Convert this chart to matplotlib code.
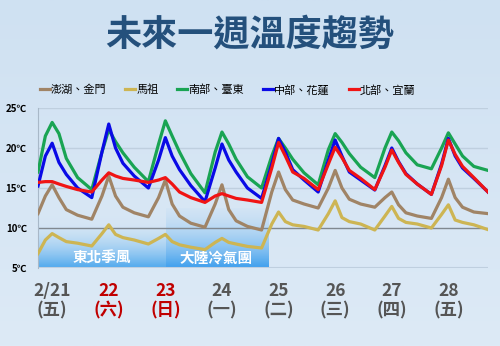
import numpy as np
import matplotlib.pyplot as plt
import matplotlib.colors as mcolors

plt.rcParams['font.family'] = ['Noto Sans CJK TC', 'DejaVu Sans']

# time in days, 0 = 2/21 label (about midday)
t = [-0.25, -0.12, 0, 0.12, 0.25, 0.45,
     0.7, 0.88, 1, 1.12, 1.25, 1.45,
     1.7, 1.88, 2, 2.12, 2.25, 2.45,
     2.7, 2.88, 3, 3.12, 3.25, 3.45,
     3.7, 3.88, 4, 4.12, 4.25, 4.45,
     4.7, 4.88, 5, 5.12, 5.25, 5.45,
     5.7, 5.88, 6, 6.12, 6.25, 6.45,
     6.7, 6.88, 7, 7.12, 7.25, 7.45, 7.7]

penghu = [11.8, 14.0, 15.4, 13.8, 12.3, 11.6,
          11.1, 14.0, 16.5, 14.0, 12.6, 11.9,
          11.4, 13.8, 16.0, 13.0, 11.5, 10.6,
          10.1, 13.0, 15.4, 12.3, 10.9, 10.2,
          9.75, 14.5, 17.0, 14.8, 13.5, 13.0,
          12.5, 15.0, 17.2, 15.0, 13.6, 13.0,
          12.6, 13.8, 14.5, 12.9, 11.9, 11.5,
          11.2, 13.8, 16.1, 13.8, 12.6, 12.0, 11.8]

matsu = [6.8, 8.5, 9.3, 8.8, 8.3, 8.1,
         7.75, 9.3, 10.4, 9.2, 8.8, 8.5,
         8.0, 8.7, 9.2, 8.3, 7.9, 7.6,
         7.3, 8.2, 8.7, 8.2, 8.0, 7.7,
         7.5, 10.5, 12.0, 10.8, 10.4, 10.2,
         9.75, 11.8, 13.4, 11.3, 10.8, 10.5,
         9.75, 11.5, 12.7, 11.2, 10.7, 10.5,
         10.0, 11.7, 12.9, 11.0, 10.7, 10.4, 9.8]

south = [17.0, 21.5, 23.2, 21.8, 18.7, 16.3,
         14.8, 19.5, 22.3, 20.8, 19.4, 17.6,
         15.8, 20.5, 23.4, 21.5, 19.5, 16.8,
         14.4, 19.5, 22.0, 20.5, 18.6, 16.4,
         15.0, 19.0, 21.2, 20.0, 18.6, 16.9,
         15.4, 19.8, 21.8, 20.7, 19.3, 17.6,
         16.3, 20.0, 22.0, 20.9, 19.4, 17.9,
         17.4, 20.0, 21.9, 20.5, 19.0, 17.7, 17.2]

central = [15.25, 19.0, 20.6, 18.2, 16.7, 15.0,
           13.8, 19.5, 23.0, 20.0, 18.1, 16.5,
           15.0, 18.5, 21.3, 19.0, 17.3, 15.3,
           13.3, 17.5, 20.5, 18.5, 17.0, 15.0,
           13.7, 18.0, 21.2, 19.5, 17.3, 16.0,
           14.5, 18.5, 21.0, 19.0, 17.0, 16.0,
           14.75, 17.8, 20.0, 18.3, 16.8, 15.5,
           14.2, 18.0, 21.2, 19.0, 17.5, 16.2, 14.5]

north = [15.7, 15.8, 15.8, 15.5, 15.2, 14.8,
         14.5, 16.0, 16.9, 16.5, 16.2, 16.0,
         15.7, 16.0, 16.3, 15.5, 14.5, 13.8,
         13.2, 14.0, 14.3, 14.0, 13.7, 13.5,
         13.2, 17.5, 20.7, 19.0, 17.0, 16.2,
         14.8, 18.0, 20.1, 18.8, 17.2, 16.2,
         14.8, 17.6, 19.75, 18.2, 16.7, 15.5,
         14.2, 17.8, 21.0, 19.2, 17.7, 16.3, 14.5]

day_labels = ['2/21\n(五)', '22\n(六)', '23\n(日)', '24\n(一)',
              '25\n(二)', '26\n(三)', '27\n(四)', '28\n(五)']
day_colors = ['#555555', '#C00000', '#C00000', '#555555',
              '#555555', '#555555', '#555555', '#555555']
y_ticks = [5, 10, 15, 20, 25]

fig = plt.figure(figsize=(5.0, 3.46), dpi=100)

# background gradient
bg = fig.add_axes([0, 0, 1, 1])
grad = np.linspace(0, 1, 256).reshape(-1, 1)
cmap_bg = mcolors.LinearSegmentedColormap.from_list('bg', ['#CFE1F2', '#DDEAF6'])
bg.imshow(grad, aspect='auto', cmap=cmap_bg, extent=[0, 1, 0, 1])
bg.axis('off')

ax = fig.add_axes([0.076, 0.2254, 0.9, 0.4624])
ax.set_facecolor('none')
ax.set_xlim(-0.25, 7.7)
ax.set_ylim(5, 25)

# monsoon / cold air boxes
def fade_box(x0, x1, y0, y1, top, bottom, top_alpha):
    c_top = mcolors.to_rgb(top)
    c_bot = mcolors.to_rgb(bottom)
    n = 100
    img = np.zeros((n, 1, 4))
    for i in range(n):
        f = i / (n - 1)
        img[i, 0, :3] = [c_top[k] * (1 - f) + c_bot[k] * f for k in range(3)]
        img[i, 0, 3] = top_alpha + (1 - top_alpha) * f
    ax.imshow(img, aspect='auto', extent=[x0, x1, y0, y1], zorder=1)

fade_box(-0.25, 2.01, 5, 11.5, '#D6E8F7', '#4FA9EE', 0.0)
fade_box(2.01, 3.82, 5, 12.5, '#B8DAF5', '#3E9FEE', 0.15)
ax.text(0.88, 6.3, '東北季風', color='white', fontsize=10.5, fontweight='bold',
        ha='center', va='center', zorder=2)
ax.text(2.9, 6.3, '大陸冷氣團', color='white', fontsize=10.5, fontweight='bold',
        ha='center', va='center', zorder=2)

# grid
for y in [15, 20, 25]:
    ax.axhline(y, color='#BFCFDF', lw=1.0, zorder=1.5)
ax.axhline(10, color='#808890', lw=1.0, zorder=1.5)
ax.axhline(5, color='#BFCFDF', lw=1.5, zorder=1.5)

for s in ['top', 'right', 'bottom']:
    ax.spines[s].set_visible(False)
ax.spines['left'].set_color('#A8B8C8')

lw = 2.3
ax.plot(t, penghu, color='#A08466', lw=lw, label='澎湖、金門', zorder=3, solid_joinstyle='round')
ax.plot(t, matsu, color='#CDB553', lw=lw, label='馬祖', zorder=3, solid_joinstyle='round')
ax.plot(t, south, color='#19A453', lw=lw, label='南部、臺東', zorder=3, solid_joinstyle='round')
ax.plot(t, central, color='#0A0AE6', lw=lw, label='中部、花蓮', zorder=3, solid_joinstyle='round')
ax.plot(t, north, color='#F01414', lw=lw, label='北部、宜蘭', zorder=3, solid_joinstyle='round')

ax.set_yticks(y_ticks)
ax.set_yticklabels([f'{v}℃' for v in y_ticks], fontsize=7, fontweight='bold')
ax.tick_params(axis='y', length=0, pad=8)

ax.set_xticks(range(len(day_labels)))
ax.set_xticklabels(day_labels, fontsize=12.5, fontweight='bold', linespacing=1.1)
for lab, c in zip(ax.get_xticklabels(), day_colors):
    lab.set_color(c)
ax.tick_params(axis='x', length=0, pad=10)

fig.legend(loc='center', bbox_to_anchor=(0.455, 0.74), ncol=5, frameon=False,
           fontsize=8, handlelength=0.9, handletextpad=0.1, columnspacing=1.7,
           borderaxespad=0)

fig.text(0.5, 0.9, '未來一週溫度趨勢', ha='center', va='center', fontsize=26,
         fontweight='bold', color='#24507C')

fig.savefig('out.png', dpi=100)
